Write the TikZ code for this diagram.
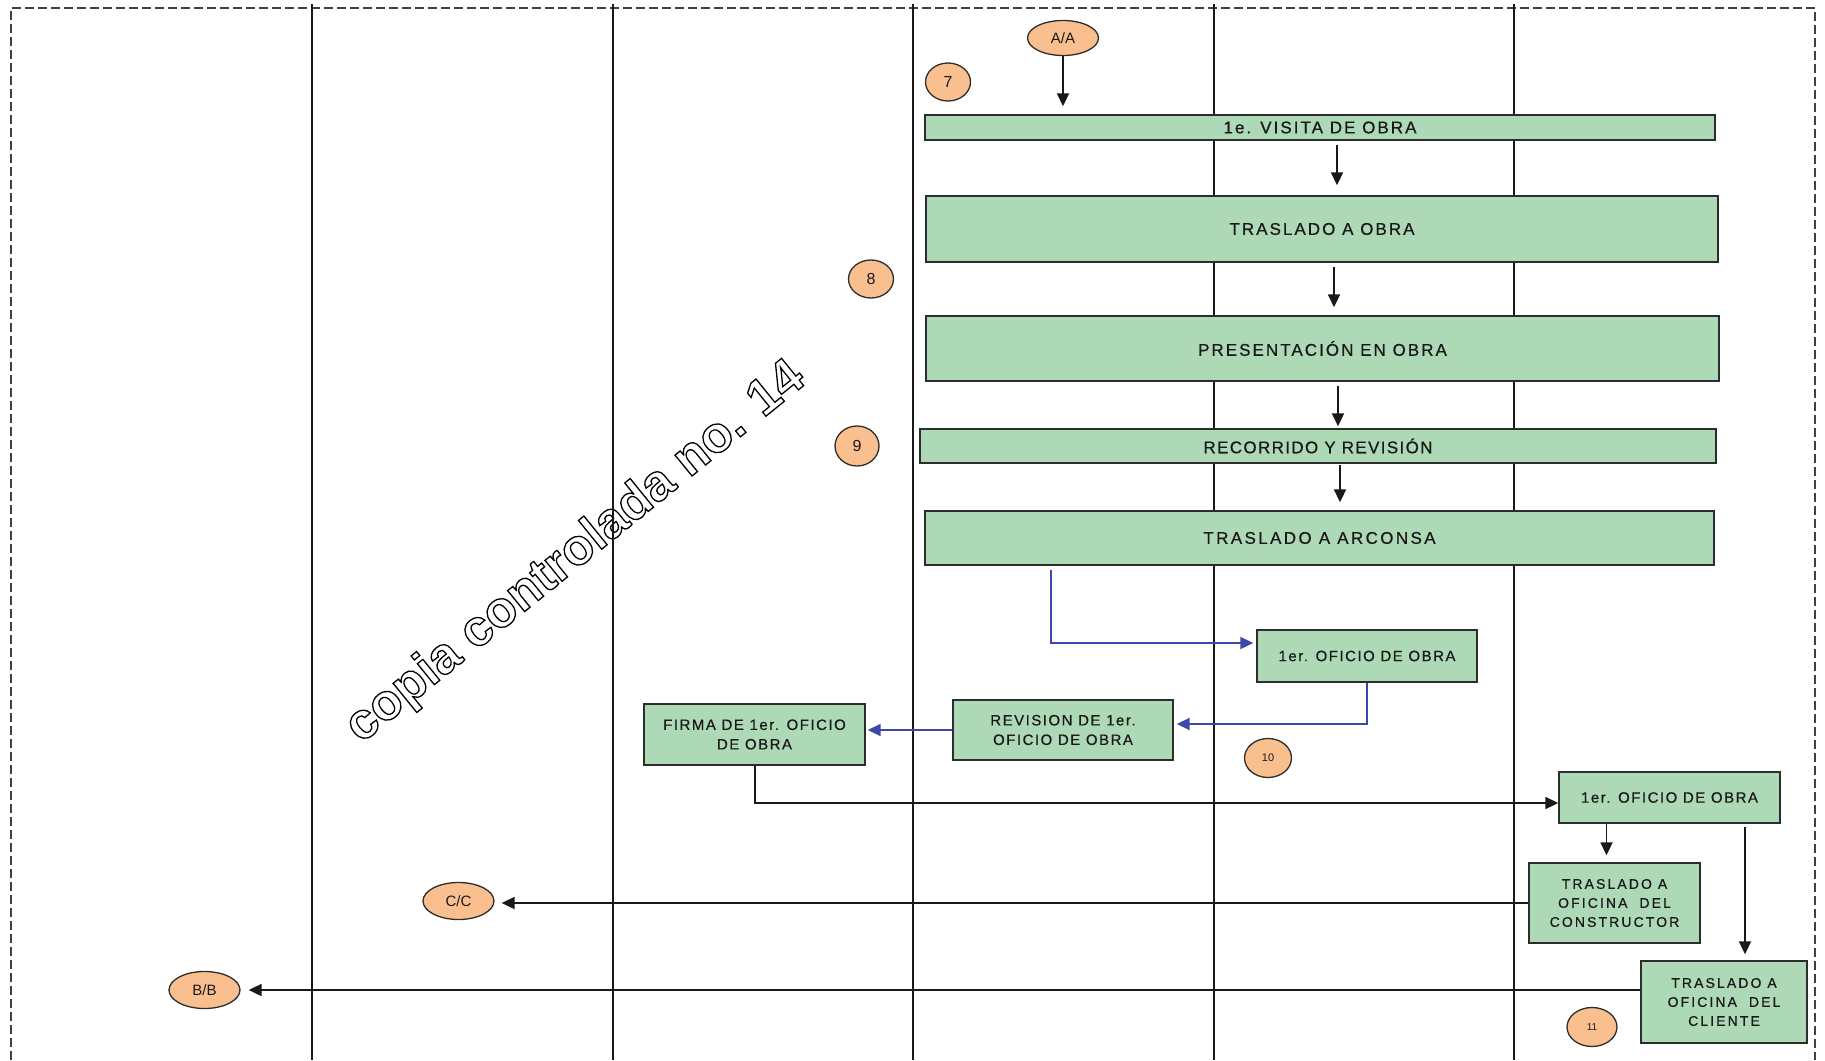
\documentclass[tikz,border=0pt]{standalone}
\usepackage{fontspec}
\setmainfont{Liberation Sans}
\newfontfamily\markfont{Liberation Sans Bold}
\usetikzlibrary{arrows.meta,shapes.geometric,calc}

\definecolor{boxfill}{RGB}{173,217,182}
\definecolor{boxline}{RGB}{45,45,45}
\definecolor{ovalfill}{RGB}{250,191,143}
\definecolor{flowblue}{RGB}{63,72,170}
\definecolor{txt}{RGB}{25,25,25}

% stroked (hollow) lettering for the watermark
\newcommand\hollowtext[1]{\special{pdf:literal direct 1 Tr 1.3 w}#1\special{pdf:literal direct 0 Tr}}

\tikzset{
  lane/.style={line width=1.8pt, draw=black!90},
  frame/.style={line width=1.3pt, draw=black!75, dash pattern=on 9pt off 4pt},
  box/.style={draw=boxline, fill=boxfill, line width=1.4pt, inner sep=0pt,
    align=center, text=txt},
  bigtxt/.style={font=\fontsize{17}{20}\selectfont\addfontfeature{LetterSpace=12,FakeBold=0.6}},
  midtxt/.style={font=\fontsize{15}{19.5}\selectfont\addfontfeature{LetterSpace=10,FakeBold=0.6}},
  smalltxt/.style={font=\fontsize{14}{19}\selectfont\addfontfeature{LetterSpace=15,FakeBold=0.6}},
  oval/.style={ellipse, draw=boxline, fill=ovalfill, line width=1.3pt,
    inner sep=0pt, text=txt},
  arr/.style={line width=1.8pt, draw=black!90,
    -{Triangle[length=13pt,width=12pt]}},
  barr/.style={line width=1.8pt, draw=flowblue,
    -{Triangle[length=13pt,width=12pt]}, color=flowblue},
}

\begin{document}
\begin{tikzpicture}[x=1pt, y=-1pt]
\useasboundingbox (0,0) rectangle (1825,1060);

% watermark
\node[rotate=39, text=black, inner sep=0pt,
  font=\markfont\fontsize{51}{51}\selectfont] (wm) at (576,553)
  {\hollowtext{copia controlada no. 14}};

% swimlane frame and dividers
\draw[frame] (11,1060) -- (11,8) -- (1815,8) -- (1815,1060);
\foreach \lx in {312,613,913,1214,1514}
  \draw[lane] (\lx,4) -- (\lx,1060);

% process boxes
\node[box, bigtxt, minimum width=790pt, minimum height=25pt] (visita) at (1320,127.5) {1e. VISITA DE OBRA};
\node[box, bigtxt, minimum width=792pt, minimum height=66pt] (trasobra) at (1322,229) {TRASLADO A OBRA};
\node[box, bigtxt, minimum width=793pt, minimum height=65pt] (presen) at (1322.5,348.5) {PRESENTACIÓN EN OBRA};
\node[box, font=\fontsize{17}{20}\selectfont\addfontfeature{LetterSpace=8,FakeBold=0.6}, minimum width=796pt, minimum height=34pt] (recorr) at (1318,446) {RECORRIDO Y REVISIÓN};
\node[box, font=\fontsize{17}{20}\selectfont\addfontfeature{LetterSpace=14,FakeBold=0.6}, minimum width=789pt, minimum height=54pt] (arconsa) at (1319.5,538) {TRASLADO A ARCONSA};

\node[box, midtxt, minimum width=220pt, minimum height=52pt] (ofa) at (1367,656) {1er. OFICIO DE OBRA};
\node[box, midtxt, minimum width=220pt, minimum height=60pt] (rev) at (1063,730) {REVISION DE 1er.\\OFICIO DE OBRA};
\node[box, midtxt, minimum width=221pt, minimum height=61pt] (firma) at (754.5,734.5) {FIRMA DE 1er. OFICIO\\DE OBRA};
\node[box, midtxt, minimum width=221pt, minimum height=51pt] (ofb) at (1669.5,797.5) {1er. OFICIO DE OBRA};
\node[box, smalltxt, minimum width=171pt, minimum height=80pt] (cons) at (1614.5,903) {TRASLADO A\\OFICINA\ \ DEL\\CONSTRUCTOR};
\node[box, smalltxt, minimum width=166pt, minimum height=82pt] (cliente) at (1724,1002) {TRASLADO A\\OFICINA\ \ DEL\\CLIENTE};

% connectors and step numbers
\node[oval, minimum width=71pt, minimum height=35pt, font=\fontsize{15}{15}\selectfont] (aa) at (1063,38) {A/A};
\node[oval, minimum width=71pt, minimum height=37pt, font=\fontsize{15}{15}\selectfont] (cc) at (458.5,901) {C/C};
\node[oval, minimum width=71pt, minimum height=37pt, font=\fontsize{15}{15}\selectfont] (bb) at (204.5,990) {B/B};
\node[oval, minimum width=45pt, minimum height=38pt, font=\fontsize{16}{16}\selectfont] (n7) at (948,82) {7};
\node[oval, minimum width=45pt, minimum height=38pt, font=\fontsize{16}{16}\selectfont] (n8) at (871,279) {8};
\node[oval, minimum width=44pt, minimum height=40pt, font=\fontsize{16}{16}\selectfont] (n9) at (857,446) {9};
\node[oval, minimum width=47pt, minimum height=39pt, font=\fontsize{11}{11}\selectfont] (n10) at (1268,758) {10};
\node[oval, minimum width=50pt, minimum height=39pt, font=\fontsize{10}{10}\selectfont] (n11) at (1592,1027) {11};

% main vertical flow
\draw[arr, shorten >=8pt] (aa.south) -- (aa.south |- visita.north);
\draw[arr, shorten <=4pt, shorten >=10pt] ([xshift=17pt]visita.south) -- ([xshift=15pt]trasobra.north);
\draw[arr, shorten <=4pt, shorten >=8pt] ([xshift=12pt]trasobra.south) -- ([xshift=11.5pt]presen.north);
\draw[arr, shorten <=4pt, shorten >=2pt] ([xshift=15.5pt]presen.south) -- ([xshift=20pt]recorr.north);
\draw[arr, shorten <=1pt, shorten >=8pt] ([xshift=22pt]recorr.south) -- ([xshift=20.5pt]arconsa.north);

% document handling
\draw[barr, shorten <=4pt, shorten >=3pt] ([xshift=-268.5pt]arconsa.south) |- ([yshift=13pt]ofa.west);
\draw[barr, shorten >=3pt] (ofa.south) |- ([yshift=6pt]rev.east);
\draw[barr, shorten >=2pt] (rev.west) -- (rev.west -| firma.east);
\draw[arr] ([xshift=0.5pt]firma.south) |- ([yshift=-5.5pt]ofb.west);
\draw[arr, shorten >=7pt] ([xshift=-63pt]ofb.south) -- ([xshift=-63pt]ofb.south |- cons.north);
\draw[arr, shorten <=3pt, shorten >=6pt] ([xshift=75.5pt]ofb.south) -- ([xshift=75.5pt]ofb.south |- cliente.north);
\draw[arr, shorten >=7pt] (cons.west) -- (cons.west -| cc.east);
\draw[arr, shorten >=8pt] (bb.east -| cliente.west) -- (bb.east);
\end{tikzpicture}
\end{document}
